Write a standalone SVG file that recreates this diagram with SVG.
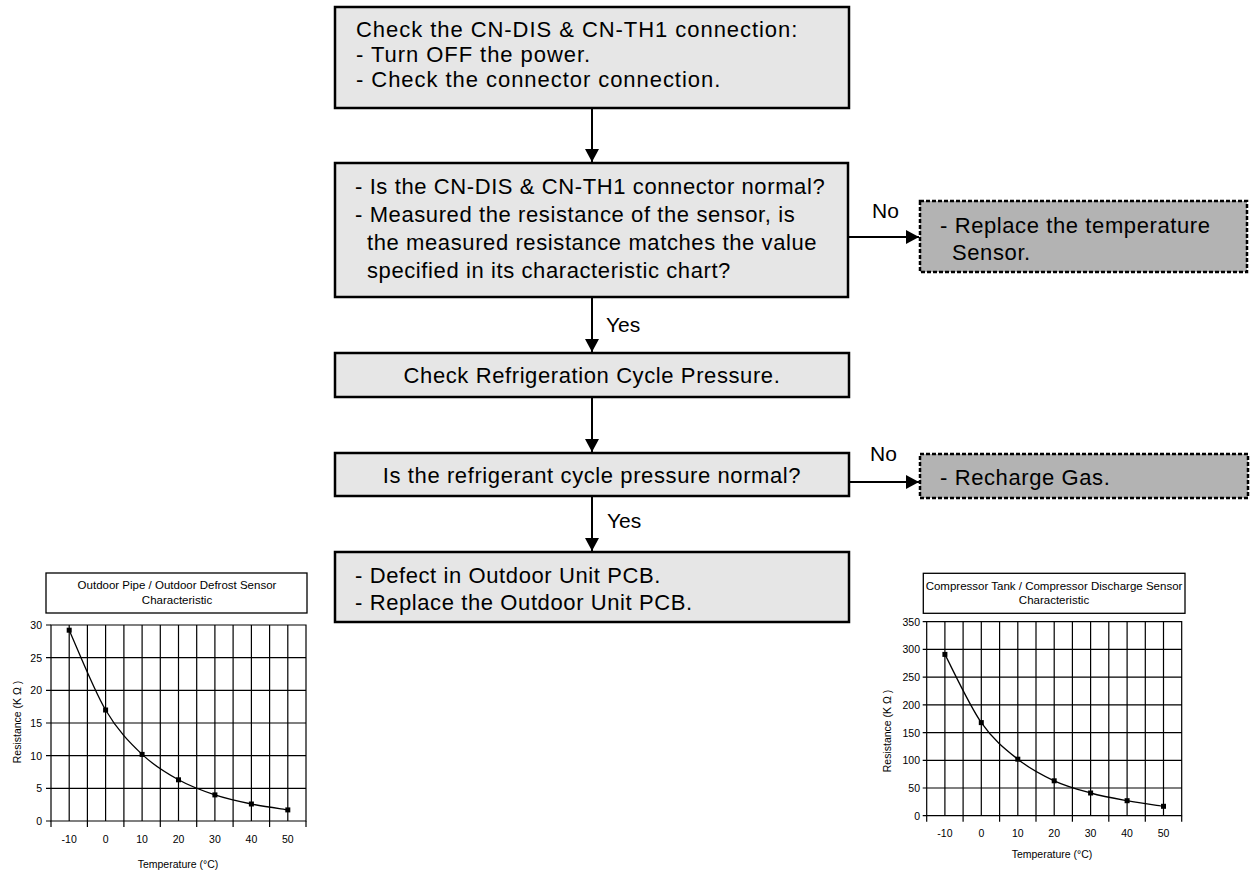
<svg xmlns="http://www.w3.org/2000/svg" width="1251" height="871" viewBox="0 0 1251 871">
<style>
.box{fill:#e6e6e6;stroke:#000;stroke-width:2.5}
.dbox{fill:#b3b3b3;stroke:#000;stroke-width:2.5;stroke-dasharray:4 2}
.t{font-family:"Liberation Sans",Arial,sans-serif;font-size:22px;letter-spacing:0.6px;fill:#000}
.lbl{font-family:"Liberation Sans",Arial,sans-serif;font-size:21px;fill:#000}
.conn{stroke:#000;stroke-width:2;fill:none}
.grid{stroke:#000;stroke-width:1.2;fill:none}
.ct{font-family:"Liberation Sans",Arial,sans-serif;font-size:11.5px;fill:#000}
.ax{font-family:"Liberation Sans",Arial,sans-serif;font-size:10.5px;fill:#000}
.curve{stroke:#000;stroke-width:1.3;fill:none}
</style>
<defs>
<marker id="ah" markerWidth="15" markerHeight="14" refX="13" refY="7" orient="auto" markerUnits="userSpaceOnUse">
<path d="M0,0 L13,7 L0,14 Z" fill="#000"/>
</marker>
</defs>

<g id="connectors">
<line class="conn" x1="592" y1="108" x2="592" y2="162" marker-end="url(#ah)"/>
<line class="conn" x1="592" y1="297" x2="592" y2="352" marker-end="url(#ah)"/>
<line class="conn" x1="592" y1="397" x2="592" y2="452" marker-end="url(#ah)"/>
<line class="conn" x1="592" y1="496" x2="592" y2="551" marker-end="url(#ah)"/>
<line class="conn" x1="848" y1="237" x2="919" y2="237" marker-end="url(#ah)"/>
<line class="conn" x1="849" y1="482" x2="919" y2="482" marker-end="url(#ah)"/>
<text class="lbl" x="606" y="332">Yes</text>
<text class="lbl" x="607" y="528">Yes</text>
<text class="lbl" x="872" y="218">No</text>
<text class="lbl" x="870" y="461">No</text>
</g>

<g id="n1">
<rect class="box" x="335" y="7" width="514" height="101"/>
<text class="t" x="356" y="37" style="letter-spacing:0.95px">Check the CN-DIS &amp; CN-TH1 connection:</text>
<text class="t" x="356" y="62" style="letter-spacing:0.95px">- Turn OFF the power.</text>
<text class="t" x="356" y="87" style="letter-spacing:0.95px">- Check the connector connection.</text>
</g>

<g id="n2">
<rect class="box" x="335" y="163" width="513" height="134"/>
<text class="t" x="355" y="194">- Is the CN-DIS &amp; CN-TH1 connector normal?</text>
<text class="t" x="355" y="222">- Measured the resistance of the sensor, is</text>
<text class="t" x="367" y="250">the measured resistance matches the value</text>
<text class="t" x="367" y="278">specified in its characteristic chart?</text>
</g>

<g id="n3">
<rect class="box" x="335" y="353" width="514" height="44"/>
<text class="t" x="592" y="383" text-anchor="middle">Check Refrigeration Cycle Pressure.</text>
</g>

<g id="n4">
<rect class="box" x="335" y="453" width="514" height="43"/>
<text class="t" x="592" y="483" text-anchor="middle">Is the refrigerant cycle pressure normal?</text>
</g>

<g id="n5">
<rect class="box" x="335" y="552" width="514" height="70"/>
<text class="t" x="355" y="583">- Defect in Outdoor Unit PCB.</text>
<text class="t" x="355" y="610">- Replace the Outdoor Unit PCB.</text>
</g>

<g id="n6">
<rect class="dbox" x="920" y="201" width="327" height="71"/>
<text class="t" x="940" y="233">- Replace the temperature</text>
<text class="t" x="952" y="260">Sensor.</text>
</g>

<g id="n7">
<rect class="dbox" x="920" y="454" width="328" height="44"/>
<text class="t" x="940" y="485">- Recharge Gas.</text>
</g>

<g id="chart1">
<rect x="46" y="573" width="261" height="40" fill="#fff" stroke="#000" stroke-width="1.3"/>
<text class="ct" x="177" y="589" text-anchor="middle">Outdoor Pipe / Outdoor Defrost Sensor</text>
<text class="ct" x="177" y="604" text-anchor="middle">Characteristic</text>
<path class="grid" d="M51,625 H306 V821 H51 Z M51,657.7 H306 M51,690.3 H306 M51,723 H306 M51,755.7 H306 M51,788.3 H306 M69.2,625 V821 M87.4,625 V821 M105.6,625 V821 M123.9,625 V821 M142.1,625 V821 M160.3,625 V821 M178.5,625 V821 M196.7,625 V821 M214.9,625 V821 M233.1,625 V821 M251.4,625 V821 M269.6,625 V821 M287.8,625 V821"/>
<path class="grid" d="M51,821 V827 M87.4,821 V827 M123.9,821 V827 M160.3,821 V827 M196.7,821 V827 M233.1,821 V827 M269.6,821 V827 M306,821 V827 M46,625 H51 M46,657.7 H51 M46,690.3 H51 M46,723 H51 M46,755.7 H51 M46,788.3 H51 M46,821 H51"/>
<g class="ax" text-anchor="end">
<text x="42" y="629">30</text><text x="42" y="661.5">25</text><text x="42" y="694">20</text><text x="42" y="727">15</text><text x="42" y="759.5">10</text><text x="42" y="792">5</text><text x="42" y="825">0</text>
</g>
<g class="ax" text-anchor="middle">
<text x="69.2" y="843">-10</text><text x="105.6" y="843">0</text><text x="142.1" y="843">10</text><text x="178.5" y="843">20</text><text x="214.9" y="843">30</text><text x="251.4" y="843">40</text><text x="287.8" y="843">50</text>
<text x="178" y="868">Temperature (°C)</text>
<text transform="translate(21,722) rotate(-90)">Resistance (K Ω )</text>
</g>
<path class="curve" d="M69.2,630.2 C75.3,643.5 93.45,689.3 105.6,710 C117.75,730.7 129.95,742.8 142.1,754.4 C154.25,766 166.37,773.05 178.5,779.8 C190.63,786.55 202.75,790.87 214.9,794.9 C227.05,798.93 239.25,801.5 251.4,804 C263.55,806.5 281.73,808.92 287.8,809.9"/>
<g fill="#000">
<rect x="66.7" y="627.7" width="5" height="5"/><rect x="103.1" y="707.5" width="5" height="5"/><rect x="139.6" y="751.9" width="5" height="5"/><rect x="176" y="777.3" width="5" height="5"/><rect x="212.4" y="792.4" width="5" height="5"/><rect x="248.9" y="801.5" width="5" height="5"/><rect x="285.3" y="807.4" width="5" height="5"/>
</g>
</g>

<g id="chart2">
<rect x="923.3" y="573.3" width="261.7" height="40" fill="#fff" stroke="#000" stroke-width="1.3"/>
<text class="ct" x="1054" y="590" text-anchor="middle">Compressor Tank / Compressor Discharge Sensor</text>
<text class="ct" x="1054" y="604" text-anchor="middle">Characteristic</text>
<path class="grid" d="M926.7,621.7 H1181.7 V815.7 H926.7 Z M926.7,649.4 H1181.7 M926.7,677.1 H1181.7 M926.7,704.9 H1181.7 M926.7,732.6 H1181.7 M926.7,760.3 H1181.7 M926.7,788 H1181.7 M944.9,621.7 V815.7 M963.1,621.7 V815.7 M981.3,621.7 V815.7 M999.6,621.7 V815.7 M1017.8,621.7 V815.7 M1036,621.7 V815.7 M1054.2,621.7 V815.7 M1072.4,621.7 V815.7 M1090.6,621.7 V815.7 M1108.8,621.7 V815.7 M1127.1,621.7 V815.7 M1145.3,621.7 V815.7 M1163.5,621.7 V815.7"/>
<path class="grid" d="M926.7,815.7 V821.7 M963.1,815.7 V821.7 M999.6,815.7 V821.7 M1036,815.7 V821.7 M1072.4,815.7 V821.7 M1108.8,815.7 V821.7 M1145.3,815.7 V821.7 M1181.7,815.7 V821.7 M922.7,621.7 H926.7 M922.7,649.4 H926.7 M922.7,677.1 H926.7 M922.7,704.9 H926.7 M922.7,732.6 H926.7 M922.7,760.3 H926.7 M922.7,788 H926.7 M922.7,815.7 H926.7"/>
<g class="ax" text-anchor="end">
<text x="920" y="625.5">350</text><text x="920" y="653">300</text><text x="920" y="681">250</text><text x="920" y="708.5">200</text><text x="920" y="736.5">150</text><text x="920" y="764">100</text><text x="920" y="792">50</text><text x="920" y="819.5">0</text>
</g>
<g class="ax" text-anchor="middle">
<text x="944.9" y="837">-10</text><text x="981.3" y="837">0</text><text x="1017.8" y="837">10</text><text x="1054.2" y="837">20</text><text x="1090.6" y="837">30</text><text x="1127.1" y="837">40</text><text x="1163.5" y="837">50</text>
<text x="1052" y="858">Temperature (°C)</text>
<text transform="translate(891,731) rotate(-90)">Resistance (K Ω )</text>
</g>
<path class="curve" d="M944.9,654.4 C950.97,665.77 969.15,705.13 981.3,722.6 C993.45,740.07 1005.65,749.5 1017.8,759.2 C1029.95,768.9 1042.07,775.17 1054.2,780.8 C1066.33,786.43 1078.45,789.68 1090.6,793 C1102.75,796.32 1114.95,798.48 1127.1,800.7 C1139.25,802.92 1157.43,805.37 1163.5,806.3"/>
<g fill="#000">
<rect x="942.4" y="651.9" width="5" height="5"/><rect x="978.8" y="720.1" width="5" height="5"/><rect x="1015.3" y="756.7" width="5" height="5"/><rect x="1051.7" y="778.3" width="5" height="5"/><rect x="1088.1" y="790.5" width="5" height="5"/><rect x="1124.6" y="798.2" width="5" height="5"/><rect x="1161" y="803.8" width="5" height="5"/>
</g>
</g>
</svg>
